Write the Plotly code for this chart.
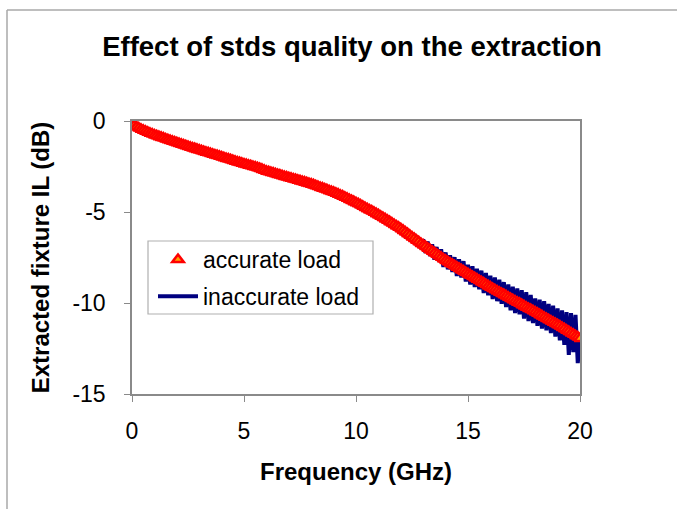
import numpy as np
import plotly.graph_objects as go

# Frequency sweep, 0 to 20 GHz in 0.1 GHz steps
freq_ghz = np.linspace(0.0, 20.0, 201)

# Fixture insertion loss extracted with the accurate load standard (dB)
il_accurate = [
    -0.15, -0.24, -0.32, -0.39, -0.45, -0.51, -0.56, -0.62, -0.67, -0.72,
    -0.77, -0.81, -0.86, -0.90, -0.94, -0.99, -1.03, -1.07, -1.11, -1.16,
    -1.20, -1.24, -1.28, -1.32, -1.36, -1.40, -1.44, -1.48, -1.52, -1.56,
    -1.60, -1.64, -1.68, -1.72, -1.75, -1.79, -1.83, -1.87, -1.90, -1.94,
    -1.98, -2.02, -2.06, -2.09, -2.13, -2.17, -2.21, -2.25, -2.28, -2.32,
    -2.36, -2.39, -2.43, -2.46, -2.50, -2.53, -2.57, -2.61, -2.66, -2.71,
    -2.76, -2.79, -2.83, -2.86, -2.90, -2.94, -2.97, -3.01, -3.05, -3.08,
    -3.12, -3.15, -3.19, -3.22, -3.26, -3.29, -3.33, -3.36, -3.40, -3.43,
    -3.47, -3.51, -3.56, -3.60, -3.65, -3.69, -3.74, -3.78, -3.83, -3.87,
    -3.92, -3.97, -4.02, -4.08, -4.13, -4.19, -4.25, -4.31, -4.37, -4.43,
    -4.49, -4.55, -4.62, -4.68, -4.75, -4.82, -4.89, -4.95, -5.02, -5.09,
    -5.16, -5.23, -5.30, -5.38, -5.46, -5.53, -5.61, -5.69, -5.77, -5.84,
    -5.92, -6.01, -6.10, -6.19, -6.28, -6.37, -6.46, -6.55, -6.64, -6.73,
    -6.82, -6.90, -6.99, -7.07, -7.16, -7.24, -7.32, -7.41, -7.49, -7.58,
    -7.66, -7.73, -7.81, -7.88, -7.96, -8.03, -8.10, -8.18, -8.25, -8.33,
    -8.40, -8.47, -8.55, -8.62, -8.69, -8.77, -8.84, -8.91, -8.98, -9.06,
    -9.13, -9.20, -9.27, -9.34, -9.41, -9.48, -9.54, -9.61, -9.68, -9.75,
    -9.82, -9.89, -9.96, -10.02, -10.09, -10.16, -10.23, -10.30, -10.36, -10.43,
    -10.50, -10.57, -10.64, -10.71, -10.78, -10.85, -10.92, -10.99, -11.06, -11.13,
    -11.20, -11.27, -11.35, -11.42, -11.50, -11.57, -11.65, -11.72, -11.80, -11.87,
    -11.95,
]

# Same extraction with the inaccurate load standard (dB) - noisy above ~12 GHz
il_inaccurate = [
    -0.13, -0.27, -0.30, -0.42, -0.43, -0.54, -0.54, -0.65, -0.65, -0.75,
    -0.75, -0.84, -0.84, -0.93, -0.92, -1.02, -1.01, -1.10, -1.09, -1.19,
    -1.17, -1.27, -1.26, -1.35, -1.34, -1.43, -1.42, -1.51, -1.50, -1.59,
    -1.58, -1.67, -1.66, -1.75, -1.73, -1.82, -1.81, -1.90, -1.88, -1.97,
    -1.96, -2.05, -2.04, -2.12, -2.11, -2.20, -2.19, -2.28, -2.26, -2.35,
    -2.34, -2.42, -2.41, -2.49, -2.48, -2.56, -2.55, -2.64, -2.64, -2.74,
    -2.74, -2.82, -2.81, -2.89, -2.88, -2.97, -2.95, -3.04, -3.03, -3.11,
    -3.10, -3.18, -3.17, -3.25, -3.24, -3.32, -3.31, -3.39, -3.38, -3.46,
    -3.45, -3.54, -3.54, -3.63, -3.62, -3.72, -3.71, -3.81, -3.80, -3.90,
    -3.89, -4.00, -3.99, -4.11, -4.10, -4.22, -4.22, -4.34, -4.34, -4.46,
    -4.46, -4.58, -4.59, -4.71, -4.72, -4.85, -4.86, -4.98, -4.99, -5.12,
    -5.13, -5.28, -5.25, -5.43, -5.40, -5.62, -5.50, -5.80, -5.66, -5.98,
    -5.80, -6.18, -5.95, -6.38, -6.12, -6.62, -6.22, -6.80, -6.40, -7.02,
    -6.50, -7.25, -6.62, -7.42, -6.78, -7.62, -6.92, -7.70, -7.05, -8.02,
    -7.22, -8.15, -7.38, -8.30, -7.48, -8.52, -7.60, -8.60, -7.70, -8.82,
    -7.90, -8.98, -7.98, -9.12, -8.12, -9.25, -8.22, -9.45, -8.35, -9.58,
    -8.50, -9.78, -8.60, -9.90, -8.72, -10.05, -8.85, -10.22, -8.98, -10.40,
    -9.10, -10.55, -9.20, -10.62, -9.30, -10.85, -9.40, -11.00, -9.55, -11.10,
    -9.75, -11.25, -9.82, -11.40, -9.90, -11.50, -10.05, -11.65, -10.15, -11.85,
    -10.30, -12.05, -10.40, -12.30, -10.50, -12.85, -10.55, -12.70, -10.65, -13.30,
    -11.95,
]

x_ticks = [0, 5, 10, 15, 20]
y_ticks = [0, -5, -10, -15]

FONT = "Liberation Sans, Arial, sans-serif"
AXIS_GRAY = "#8a8a8a"

fig = go.Figure()

fig.add_trace(go.Scatter(
    x=freq_ghz, y=il_inaccurate, name="inaccurate load",
    mode="lines", line=dict(color="#000080", width=4),
    legendgroup="inaccurate", legendrank=2,
))
fig.add_trace(go.Scatter(
    x=freq_ghz, y=il_accurate, name="accurate load",
    mode="markers",
    marker=dict(symbol="triangle-up", size=10, color="#FFA000",
                line=dict(color="#FF0000", width=2.5)),
    legendgroup="accurate", legendrank=1,
))

# plot-area pixel box inside the 677x509 page
L, R, T, B = 132, 580, 121, 394
W, H = R - L, B - T
PAGE_W, PAGE_H = 677, 509

def px_x(p):
    return (p - L) / W

def px_y(p):
    return (B - p) / H

shapes = [
    # slide frame: top and left edges
    dict(type="line", xref="paper", yref="paper",
         x0=px_x(7), x1=px_x(677), y0=px_y(10), y1=px_y(10),
         line=dict(color="#a8a8a8", width=1.5)),
    dict(type="line", xref="paper", yref="paper",
         x0=px_x(7), x1=px_x(7), y0=px_y(10), y1=px_y(509),
         line=dict(color="#a8a8a8", width=1.5)),
    # legend box
    dict(type="rect", xref="paper", yref="paper",
         x0=px_x(148), x1=px_x(373), y0=px_y(241), y1=px_y(314),
         line=dict(color="#b0b0b0", width=1.2), fillcolor="white", layer="below"),
]

fig.update_layout(
    width=PAGE_W, height=PAGE_H,
    margin=dict(l=L, r=PAGE_W - R, t=T, b=PAGE_H - B, pad=0),
    paper_bgcolor="white", plot_bgcolor="white",
    font=dict(family=FONT, color="black", size=23),
    title=dict(text="<b>Effect of stds quality on the extraction</b>",
               x=352 / PAGE_W, xanchor="center",
               y=1 - 46 / PAGE_H, yanchor="middle",
               font=dict(family=FONT, size=27.5, color="black")),
    showlegend=True,
    legend=dict(x=px_x(153), y=px_y(238), xanchor="left", yanchor="top",
                bgcolor="rgba(0,0,0,0)", borderwidth=0,
                traceorder="grouped", tracegroupgap=4,
                font=dict(family=FONT, size=23, color="black"),
                itemwidth=40),
    shapes=shapes,
)

fig.update_xaxes(
    range=[0, 20], tickvals=x_ticks, ticktext=[str(v) for v in x_ticks],
    showgrid=False, zeroline=False,
    showline=True, linecolor=AXIS_GRAY, linewidth=1.5, mirror=True,
    ticks="outside", ticklen=6, tickcolor=AXIS_GRAY, tickwidth=1.2,
    ticklabelstandoff=10,
    tickfont=dict(family=FONT, size=23, color="black"),
    title=dict(text="<b>Frequency (GHz)</b>", standoff=20,
               font=dict(family=FONT, size=24, color="black")),
)
fig.update_yaxes(
    range=[-15, 0], tickvals=y_ticks, ticktext=[str(v) for v in y_ticks],
    showgrid=False, zeroline=False,
    showline=True, linecolor=AXIS_GRAY, linewidth=1.5, mirror=True,
    ticks="outside", ticklen=6, tickcolor=AXIS_GRAY, tickwidth=1.2,
    ticklabelstandoff=14,
    tickfont=dict(family=FONT, size=23, color="black"),
    title=dict(text="<b>Extracted fixture IL (dB)</b>", standoff=16,
               font=dict(family=FONT, size=24, color="black")),
)

fig.write_html("out.html")
